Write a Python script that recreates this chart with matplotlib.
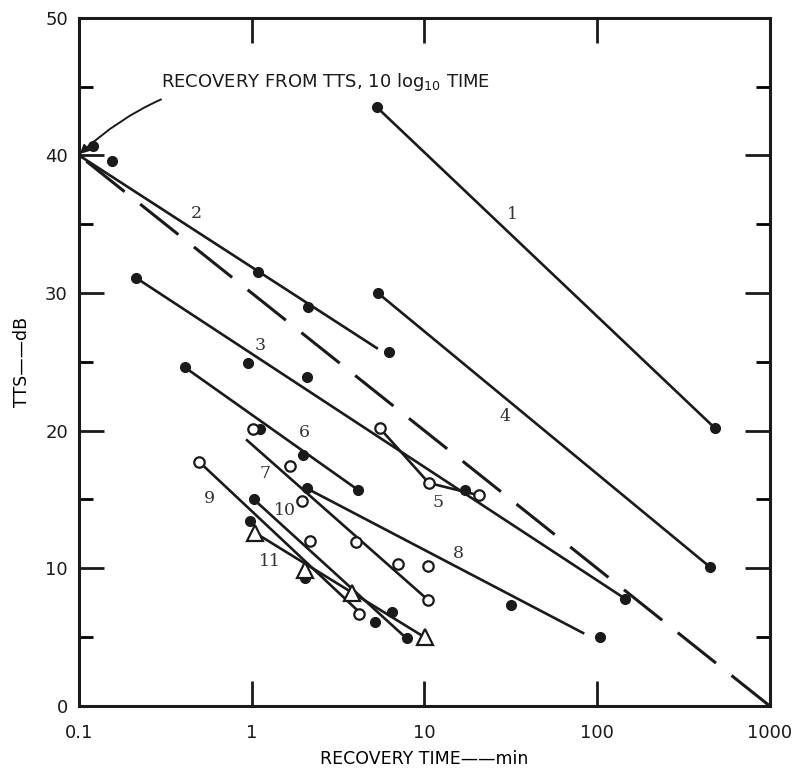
import numpy as np
import matplotlib
matplotlib.use("Agg")
import matplotlib.pyplot as plt
from matplotlib.ticker import NullLocator, MultipleLocator

# fitted recovery lines (x in min, y in dB)
line1_x = [5.3, 480];   line1_y = [43.5, 20.2]
line2_x = [0.1, 5.3];   line2_y = [40.0, 26.0]
line3_x = [0.214, 145]; line3_y = [31.1, 7.8]
line4_x = [5.38, 450];  line4_y = [30.0, 10.1]
line5_x = [5.5, 10.6, 20.7]; line5_y = [20.2, 16.2, 15.3]
line6_x = [0.41, 4.12]; line6_y = [24.6, 15.7]
line7_x = [0.94, 10.5]; line7_y = [19.3, 7.7]
line8_x = [2.09, 83];   line8_y = [15.8, 5.3]
line9_x = [0.5, 4.3];   line9_y = [17.7, 6.7]
line10_x = [1.03, 7.9]; line10_y = [15.0, 4.9]
line11_x = [1.04, 10.0]; line11_y = [12.6, 5.0]

# 10 log10 time reference (drawn from the 1000 min end)
ref_x = [1000, 0.1]
ref_y = [0, 40]

filled_x = [0.12, 0.155, 1.09, 2.12, 6.23, 5.3, 480, 0.214, 0.95, 2.08, 145,
            5.38, 450, 17.1, 0.41, 1.11, 1.98, 4.12, 2.09, 31.6, 104, 0.98,
            2.03, 1.03, 6.49, 5.17, 7.93]
filled_y = [40.7, 39.6, 31.5, 29.0, 25.7, 43.5, 20.2, 31.1, 24.9, 23.9, 7.8,
            30.0, 10.1, 15.7, 24.6, 20.1, 18.2, 15.7, 15.8, 7.3, 5.0, 13.4,
            9.3, 15.0, 6.8, 6.1, 4.9]

open_x = [5.5, 10.6, 20.7, 1.02, 1.66, 4.0, 7.0, 10.5, 10.5, 0.496, 4.2, 1.96, 2.17]
open_y = [20.2, 16.2, 15.3, 20.1, 17.4, 11.9, 10.3, 7.7, 10.2, 17.7, 6.7, 14.9, 12.0]

tri_x = [1.04, 2.03, 3.8, 10.1]
tri_y = [12.6, 9.9, 8.2, 5.0]

label_text = ["1", "2", "3", "4", "5", "6", "7", "8", "9", "10", "11"]
label_x = [32.5, 0.48, 1.12, 29.2, 12.0, 2.03, 1.19, 15.8, 0.57, 1.56, 1.28]
label_y = [35.7, 35.8, 26.2, 21.0, 14.8, 19.9, 16.9, 11.1, 15.1, 14.2, 10.5]

fig = plt.figure(figsize=(8.06, 7.69), dpi=100)
ax = fig.add_axes([0.098, 0.082, 0.857, 0.895])

lines = [(line1_x, line1_y), (line2_x, line2_y), (line3_x, line3_y),
         (line4_x, line4_y), (line5_x, line5_y), (line6_x, line6_y),
         (line7_x, line7_y), (line8_x, line8_y), (line9_x, line9_y),
         (line10_x, line10_y), (line11_x, line11_y)]
for lx, ly in lines:
    ax.plot(lx, ly, color='#1a1a1a', lw=1.9, zorder=2)

ax.plot(ref_x, ref_y, color='#1a1a1a', lw=2.2, dashes=(16, 6.5), zorder=2)

ax.plot(filled_x, filled_y, 'o', color='#1a1a1a', ms=7, zorder=3)
ax.plot(open_x, open_y, 'o', mfc='white', mec='#1a1a1a', mew=1.6, ms=7.5, zorder=3)
ax.plot(tri_x, tri_y, '^', mfc='white', mec='#1a1a1a', mew=1.6, ms=11, zorder=3)

for t, x, y in zip(label_text, label_x, label_y):
    ax.text(x, y, t, family='DejaVu Serif', fontsize=12.5, color='#333333',
            ha='center', va='center')

ax.annotate('RECOVERY FROM TTS, 10 log$_{10}$ TIME', xy=(0.101, 40.1),
            xytext=(0.3, 45.3), fontsize=13, ha='left', va='center',
            color='#1a1a1a',
            arrowprops=dict(arrowstyle='-|>', color='#1a1a1a', lw=1.4,
                            connectionstyle='arc3,rad=0.25', shrinkA=6, shrinkB=0))

ax.set_xscale('log')
ax.set_xlim(0.1, 1000)
ax.set_ylim(0, 50)
ax.set_xticks([0.1, 1, 10, 100, 1000])
ax.set_xticklabels(['0.1', '1', '10', '100', '1000'])
ax.xaxis.set_minor_locator(NullLocator())
ax.yaxis.set_major_locator(MultipleLocator(10))
ax.yaxis.set_minor_locator(MultipleLocator(5))
ax.tick_params(which='major', direction='in', length=18, width=2,
               top=True, right=True, labelsize=13, pad=8, colors='#1a1a1a')
ax.tick_params(axis='x', which='major', pad=13)
ax.tick_params(which='minor', direction='in', length=10, width=2,
               right=True)
for s in ax.spines.values():
    s.set_linewidth(2.2)
    s.set_color('#1a1a1a')

ax.set_xlabel('RECOVERY TIME\u2014\u2014min', fontsize=12.5, labelpad=6)
ax.set_ylabel('TTS\u2014\u2014dB', fontsize=12.5, labelpad=10)

fig.savefig('out.png', dpi=100)
